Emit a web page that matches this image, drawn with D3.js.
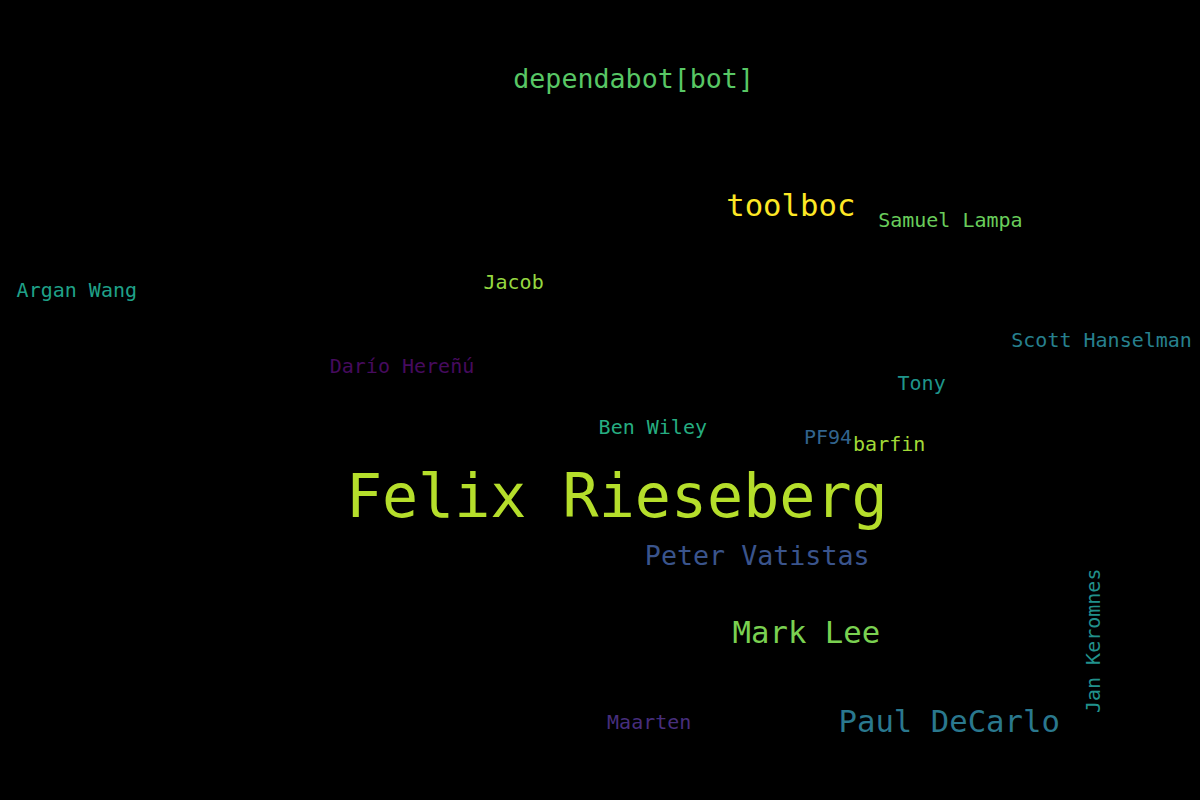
<!DOCTYPE html>
<html>
<head>
<meta charset="utf-8">
<script src="https://cdn.jsdelivr.net/npm/d3@7"></script>
<style>
  html, body { margin: 0; padding: 0; background: #000; }
  svg { display: block; }
</style>
</head>
<body>
<svg id="chart" width="1200" height="800"></svg>
<script>
const names = [
    'Felix Rieseberg', 'toolboc', 'Mark Lee', 'Paul DeCarlo', 'Peter Vatistas',
    'dependabot[bot]', 'Samuel Lampa', 'Jacob', 'Argan Wang', 'Darío Hereñú',
    'Scott Hanselman', 'Tony', 'Ben Wiley', 'PF94', 'barfin', 'Maarten', 'Jan Keromnes'
];
const counts = [34, 12, 12, 12, 9, 9, 4, 4, 4, 4, 4, 4, 4, 4, 4, 4, 4];

// position in the viridis colour map that each word got
const tones = [0.89, 1.0, 0.80, 0.40, 0.26, 0.74, 0.77, 0.84, 0.57, 0.03, 0.43, 0.52, 0.62, 0.32, 0.86, 0.13, 0.50];

// layout placement, as fractions of the canvas (word centre x, baseline y)
const placeX = [0.514, 0.659, 0.672, 0.791, 0.631, 0.528, 0.792, 0.428, 0.064, 0.335, 0.918, 0.768, 0.544, 0.690, 0.741, 0.541, 0.917];
const placeY = [0.646, 0.270, 0.804, 0.915, 0.706, 0.110, 0.284, 0.361, 0.371, 0.466, 0.434, 0.488, 0.543, 0.555, 0.564, 0.911, 0.801];
const rotated = [0, 0, 0, 0, 0, 0, 0, 0, 0, 0, 0, 0, 0, 0, 0, 0, 1];

const width = 1200;
const height = 800;

const svg = d3.select('#chart');

svg.append('rect')
    .attr('width', width)
    .attr('height', height)
    .attr('fill', '#000');

const x = d3.scaleLinear().domain([0, 1]).range([0, width]);
const y = d3.scaleLinear().domain([0, 1]).range([0, height]);
const size = d3.scaleLinear().domain([4, 34]).range([20, 60]);

const words = names.map((name, i) => ({
    text: name,
    count: counts[i],
    tone: tones[i],
    px: placeX[i],
    py: placeY[i],
    rot: rotated[i]
}));

svg.append('g')
    .selectAll('text')
    .data(words)
    .enter()
    .append('text')
    .attr('text-anchor', 'middle')
    .attr('font-family', '"DejaVu Sans Mono", monospace')
    .attr('font-size', d => size(d.count))
    .attr('fill', d => d3.interpolateViridis(d.tone))
    .attr('transform', d => `translate(${x(d.px)},${y(d.py)}) rotate(${d.rot ? -90 : 0})`)
    .text(d => d.text);
</script>
</body>
</html>
